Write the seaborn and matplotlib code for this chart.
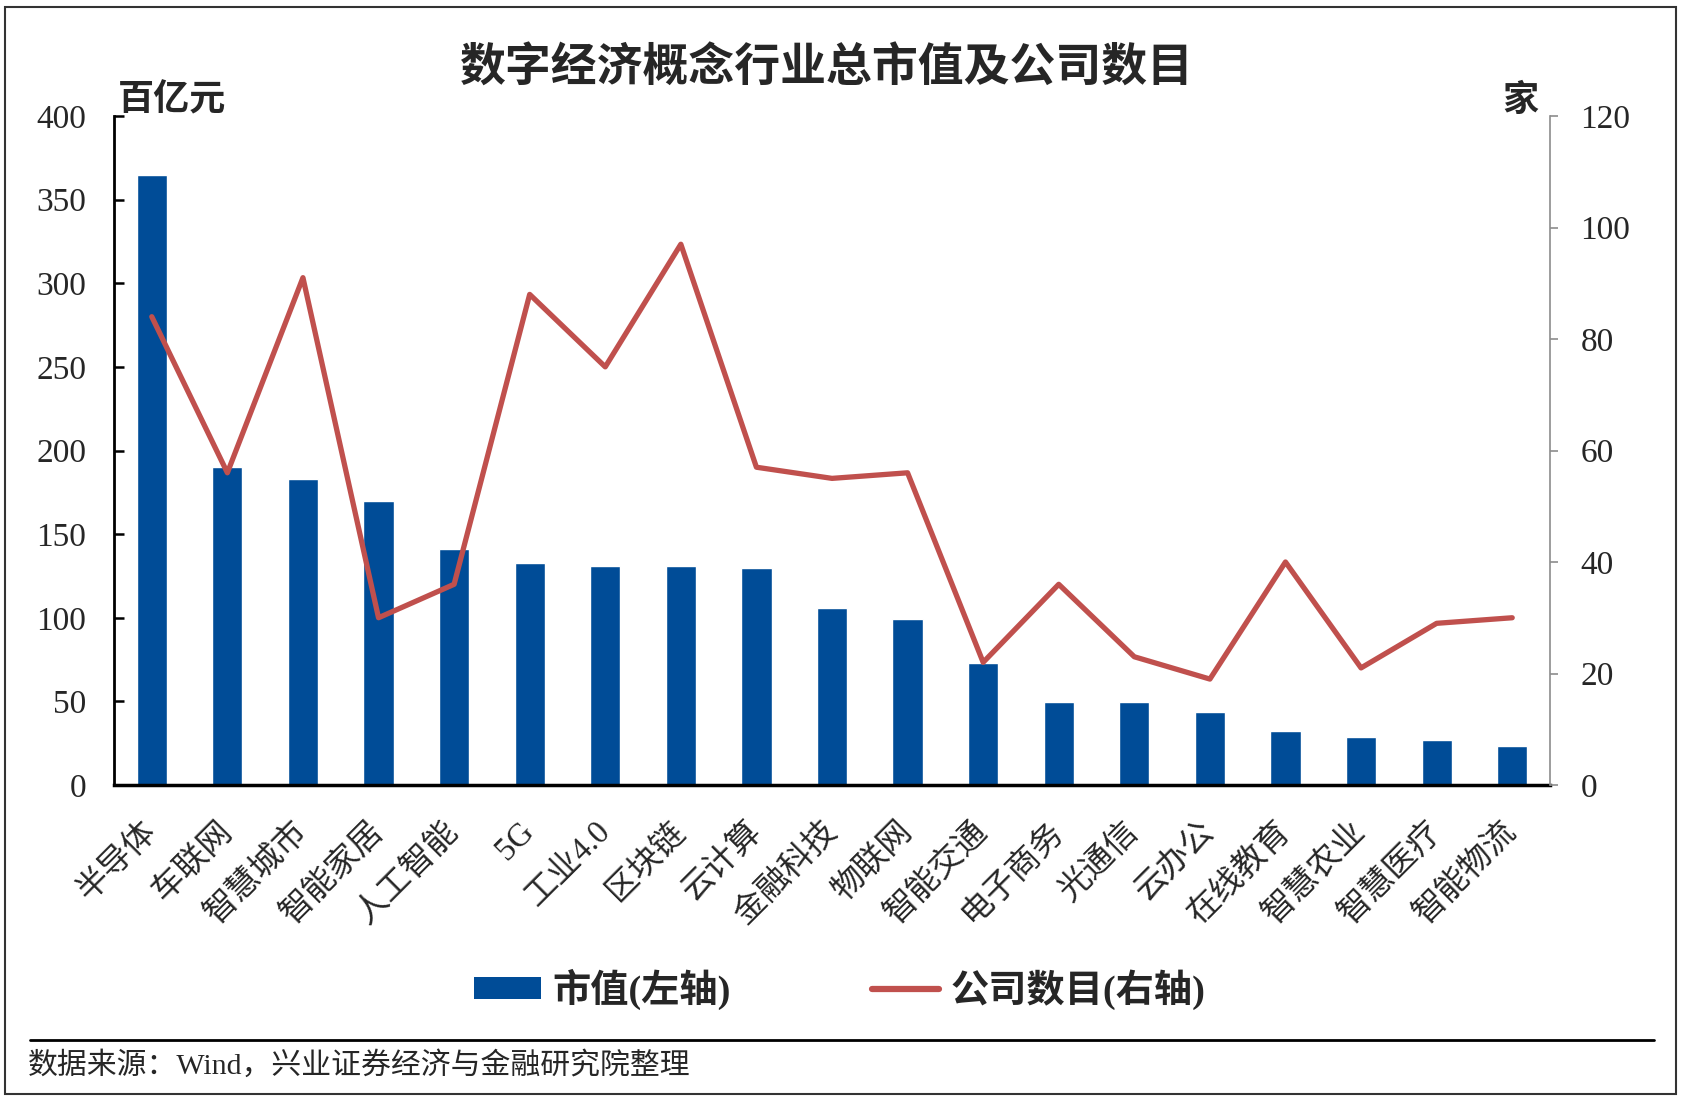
import numpy as np
import pandas as pd
import matplotlib
matplotlib.use("Agg")
import matplotlib.pyplot as plt
import seaborn as sns
from matplotlib.patches import Patch, Rectangle
from matplotlib.lines import Line2D

categories = ["半导体", "车联网", "智慧城市", "智能家居", "人工智能", "5G", "工业4.0", "区块链",
              "云计算", "金融科技", "物联网", "智能交通", "电子商务", "光通信", "云办公", "在线教育",
              "智慧农业", "智慧医疗", "智能物流"]
market_value = [365, 190, 183, 170, 141, 133, 131, 131, 129.5, 106, 99.5, 73, 49.5, 49.5, 43.5, 32.5, 28.5, 27, 23.5]
company_count = [84, 56, 91, 30, 36, 88, 75, 97, 57, 55, 56, 22, 36, 23, 19, 40, 21, 29, 30]
left_ticks = [0, 50, 100, 150, 200, 250, 300, 350, 400]
right_ticks = [0, 20, 40, 60, 80, 100, 120]

title = "数字经济概念行业总市值及公司数目"
left_unit = "百亿元"
right_unit = "家"
legend_labels = ["市值(左轴)", "公司数目(右轴)"]
source = "数据来源：Wind，兴业证券经济与金融研究院整理"

BLUE = "#004C97"
RED = "#C0504D"

sns.set_theme(style="white")
FAM = ["Liberation Serif", "Noto Sans CJK SC", "DejaVu Sans"]
plt.rcParams["font.family"] = FAM

df = pd.DataFrame({"cat": categories, "mv": market_value, "cnt": company_count})
df["pos"] = np.arange(len(df))

W, H = 1684, 1102
fig = plt.figure(figsize=(W / 100, H / 100), dpi=100)
ax = fig.add_axes([114 / W, 1 - 785 / H, (1550 - 114) / W, (785 - 116) / H])

sns.barplot(data=df, x="cat", y="mv", color=BLUE, width=0.4, saturation=1, ax=ax, order=categories)
ax.set_ylim(0, 400)
ax.set_xlim(-0.5, len(categories) - 0.5)
ax.set_yticks(left_ticks)
ax.set_xlabel("")
ax.set_ylabel("")
for s in ["top", "right"]:
    ax.spines[s].set_visible(False)
ax.spines["left"].set_color("black")
ax.spines["left"].set_linewidth(2)
ax.spines["bottom"].set_color("black")
ax.spines["bottom"].set_linewidth(2.5)
ax.tick_params(axis="y", direction="in", length=7, width=1.8, color="black", pad=20,
               labelsize=24, left=True)
ax.tick_params(axis="x", length=0, pad=30)
for lab in ax.get_xticklabels():
    lab.set_rotation(45)
    lab.set_ha("right")
    lab.set_va("center")
    lab.set_rotation_mode("anchor")
    lab.set_fontsize(23.5)
    lab.set_family(FAM)

ax2 = ax.twinx()
sns.lineplot(data=df, x="pos", y="cnt", color=RED, linewidth=3.8, ax=ax2, sort=False,
             legend=False)
ax2.set_ylim(0, 120)
ax2.set_xlim(-0.5, len(categories) - 0.5)
ax2.set_yticks(right_ticks)
ax2.set_ylabel("")
ax2.set_xlabel("")
for s in ["top", "left", "bottom"]:
    ax2.spines[s].set_visible(False)
ax2.spines["right"].set_color("#8c8c8c")
ax2.spines["right"].set_linewidth(1.2)
ax2.tick_params(axis="y", direction="out", length=6, width=1.2, color="#8c8c8c", pad=16,
                labelsize=24, right=True)
ax2.tick_params(axis="x", bottom=False, labelbottom=False)

# unit labels
fig.text(118 / W, 1 - 101 / H, left_unit, fontsize=26, fontweight="bold", ha="left", va="center")
fig.text(1520 / W, 1 - 102 / H, right_unit, fontsize=26, fontweight="bold", ha="center", va="center")

# title
fig.text(827 / W, 1 - 70 / H, title, fontsize=33, fontweight="bold", ha="center", va="center")

# legend
handles = [Patch(facecolor=BLUE, edgecolor="none"),
           Line2D([0], [0], color=RED, linewidth=4.5)]
fig.legend(handles, legend_labels, loc="center", bbox_to_anchor=(840 / W, 1 - 989 / H), ncol=2,
           frameon=False, prop={"size": 27.5, "weight": "bold", "family": FAM},
           handlelength=1.75, handleheight=0.5, handletextpad=0.3, columnspacing=3.7)

# footer line and source
fig.add_artist(Line2D([30 / W, 1654 / W], [1 - 1040 / H] * 2, color="black", linewidth=2))
fig.text(28 / W, 1 - 1065 / H, source, fontsize=21.5, ha="left", va="center")

# outer border
fig.add_artist(Rectangle((5 / W, 1 - 1094 / H), (1676 - 5) / W, (1094 - 7) / H,
                         transform=fig.transFigure, fill=False, edgecolor="#333333", linewidth=1.5))

fig.savefig("out.png", dpi=100)
